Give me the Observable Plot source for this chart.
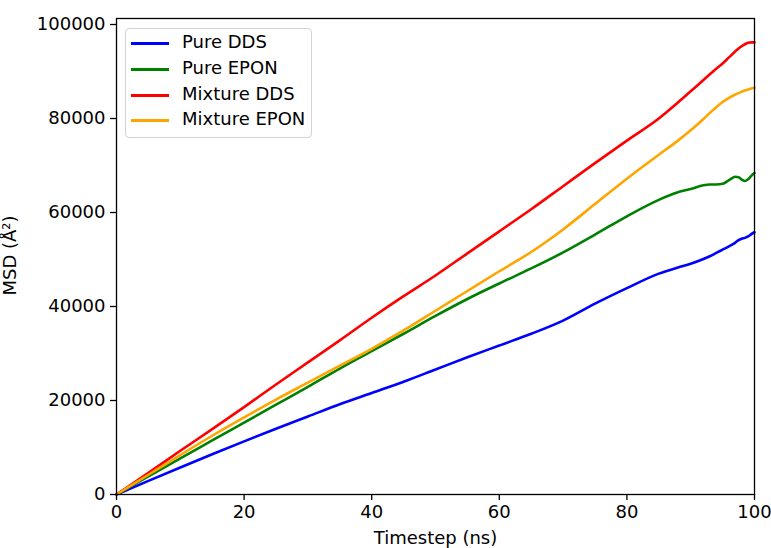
<!DOCTYPE html>
<html>
<head>
<meta charset="utf-8">
<script src="https://cdn.jsdelivr.net/npm/d3@7"></script>
<script src="https://cdn.jsdelivr.net/npm/@observablehq/plot@0.6"></script>
<style>
  html, body { margin: 0; padding: 0; background: #fff; }
  #wrap { position: relative; width: 771px; height: 548px; overflow: hidden; }
  #legend {
    position: absolute; left: 125px; top: 28px; width: 187px; height: 110px;
    border: 1px solid #d3d3d3; border-radius: 4px; background: rgba(255,255,255,0.8);
    font-family: "DejaVu Sans", sans-serif; font-size: 18px; color: #000;
    box-sizing: border-box;
  }
  .row { position: absolute; left: 0; height: 20px; }
  .sw { position: absolute; left: 5px; width: 38px; height: 3px; }
  .lb { position: absolute; left: 56px; top: -1px; white-space: nowrap; line-height: 20px; }
</style>
</head>
<body>
<div id="wrap"></div>
<script>
// Simulation time (ns)
const timestep = [0, 5, 10, 15, 20, 25, 30, 35, 40, 45, 50, 55, 60, 65, 70, 75, 80, 85, 88, 90, 92, 93, 94, 95, 96, 97, 97.5, 98, 98.5, 99, 99.5, 100];

// Mean squared displacement for each system
const pureDDS = [0, 2900, 5750, 8550, 11300, 14000, 16600, 19200, 21600, 24000, 26600, 29200, 31700, 34200, 37000, 40600, 43900, 47000, 48300, 49100, 50100, 50700, 51400, 52100, 52800, 53600, 54100, 54400, 54600, 54900, 55400, 55800];
const pureEPON = [0, 3850, 7700, 11500, 15300, 19100, 22900, 26800, 30500, 34200, 38000, 41600, 44900, 48100, 51500, 55300, 59200, 62700, 64300, 65000, 65800, 65950, 65950, 66100, 66900, 67600, 67500, 67000, 66700, 67100, 67800, 68400];
const mixtureDDS = [0, 4600, 9300, 13900, 18600, 23400, 28100, 32800, 37600, 42200, 46600, 51300, 56000, 60700, 65600, 70500, 75300, 80000, 83400, 85800, 88200, 89400, 90600, 91700, 93000, 94300, 94900, 95400, 95800, 96100, 96200, 96200];
const mixtureEPON = [0, 4200, 8400, 12500, 16400, 20200, 23800, 27400, 31000, 34900, 39100, 43300, 47500, 51600, 56400, 61800, 67200, 72300, 75300, 77500, 79900, 81200, 82400, 83500, 84400, 85100, 85400, 85700, 85950, 86150, 86400, 86550];

const seriesNames = ["Pure DDS", "Pure EPON", "Mixture DDS", "Mixture EPON"];
const seriesColors = ["#0000ff", "#008000", "#ff0000", "#ffa500"];
const xTicks = [0, 20, 40, 60, 80, 100];
const yTicks = [0, 20000, 40000, 60000, 80000, 100000];

const seriesValues = [pureDDS, pureEPON, mixtureDDS, mixtureEPON];
const rows = seriesNames.flatMap((name, i) =>
  timestep.map((t, j) => ({t, msd: seriesValues[i][j], series: name}))
);

const font = "'DejaVu Sans', sans-serif";
const fs = 18;

const chart = Plot.plot({
  width: 771,
  height: 548,
  marginLeft: 116,
  marginRight: 17,
  marginTop: 18,
  marginBottom: 54,
  style: {fontFamily: font, fontSize: fs + "px", color: "#000", background: "#fff"},
  x: {domain: [0, 100]},
  y: {domain: [0, 101280]},
  color: {domain: seriesNames, range: seriesColors},
  marks: [
    Plot.line(rows, {x: "t", y: "msd", z: "series", stroke: "series", strokeWidth: 2.6, curve: "monotone-x"}),
    Plot.frame({stroke: "#000", strokeWidth: 1.3}),
    Plot.axisX({ticks: xTicks, tickSize: 6, tickPadding: 5, strokeWidth: 1.3, label: null, tickFormat: d => String(d), fontSize: fs}),
    Plot.axisY({ticks: yTicks, tickSize: 6, tickPadding: 5, strokeWidth: 1.3, label: null, tickFormat: d => String(d), fontSize: fs}),
    Plot.text(["Timestep (ns)"], {frameAnchor: "bottom", dy: 44, lineAnchor: "middle", text: d => d, fontSize: fs}),
    Plot.text(["MSD (Å²)"], {frameAnchor: "left", rotate: -90, dx: -106, dy: -1, lineAnchor: "middle", textAnchor: "middle", text: d => d, fontSize: fs})
  ]
});

const wrap = document.getElementById("wrap");
wrap.appendChild(chart);

// Legend box in the upper-left corner of the axes
const legend = document.createElement("div");
legend.id = "legend";
seriesNames.forEach((name, i) => {
  const row = document.createElement("div");
  row.className = "row";
  row.style.top = Math.round(4 + i * 25.8) + "px";
  const sw = document.createElement("div");
  sw.className = "sw";
  sw.style.background = seriesColors[i];
  sw.style.top = "9px";
  const lb = document.createElement("div");
  lb.className = "lb";
  lb.textContent = name;
  row.appendChild(sw);
  row.appendChild(lb);
  legend.appendChild(row);
});
wrap.appendChild(legend);
</script>
</body>
</html>
